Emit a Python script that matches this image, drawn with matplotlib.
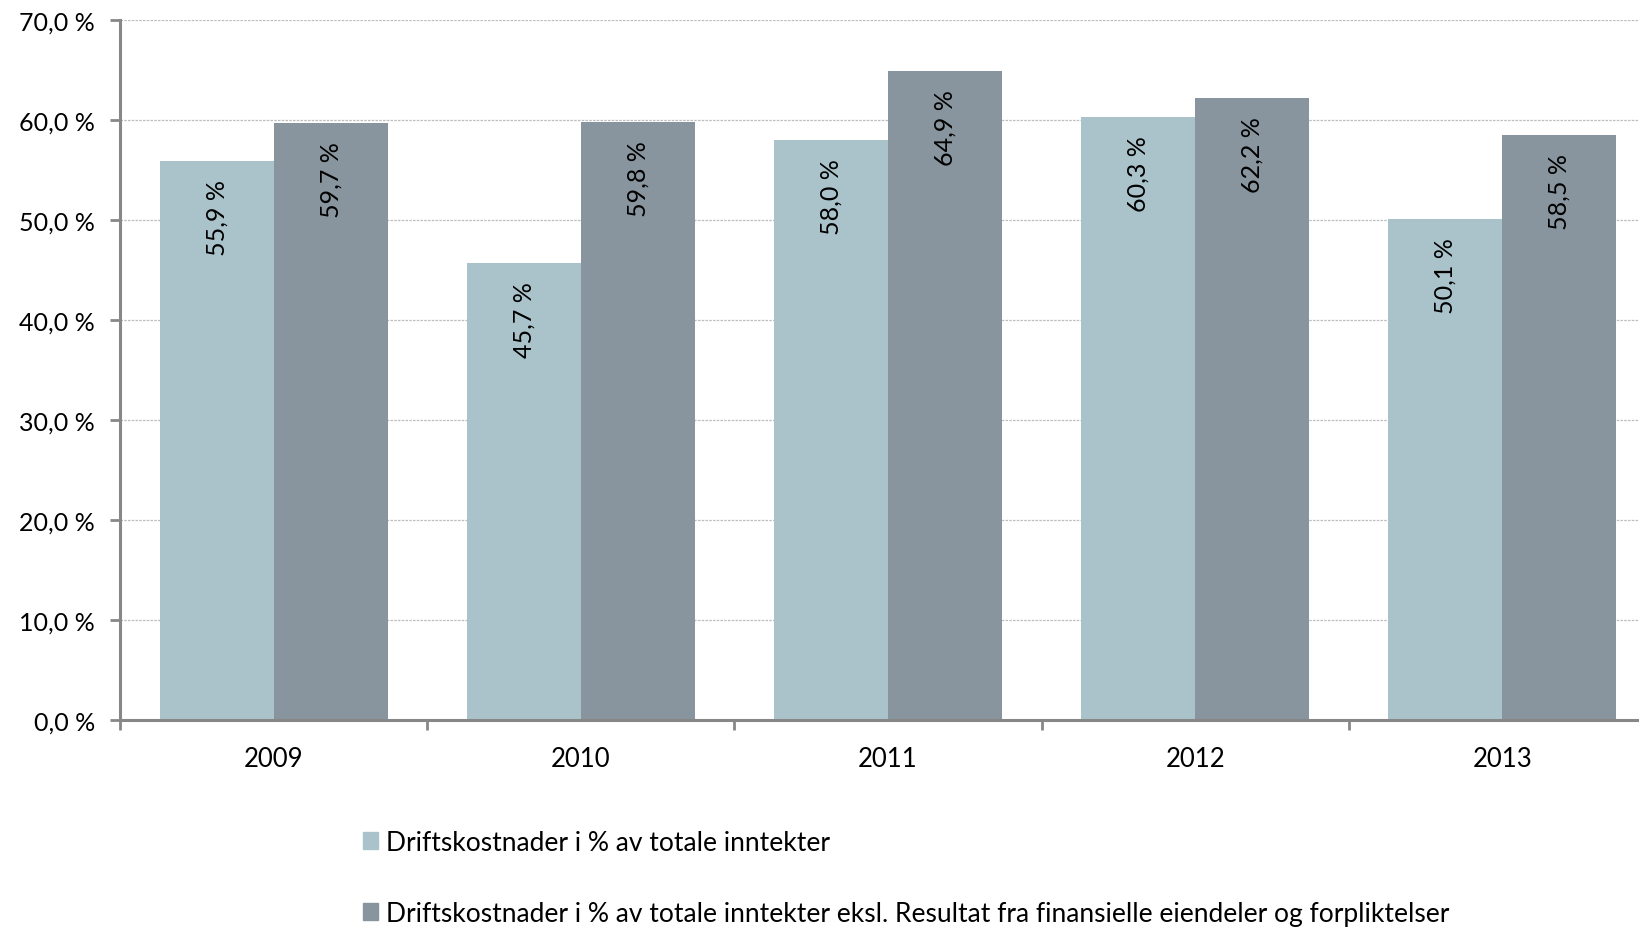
import matplotlib
matplotlib.use("Agg")
import matplotlib.pyplot as plt
from matplotlib.patches import Patch
import numpy as np

years = ["2009", "2010", "2011", "2012", "2013"]
drift_total = [55.9, 45.7, 58.0, 60.3, 50.1]
drift_ekskl = [59.7, 59.8, 64.9, 62.2, 58.5]
labels = [
    "Driftskostnader i % av totale inntekter",
    "Driftskostnader i % av totale inntekter eksl. Resultat fra finansielle eiendeler og forpliktelser",
]

col_light = "#aac3ca"
col_dark = "#88959e"
axis_col = "#878787"

plt.rcParams["font.family"] = ["Lato", "DejaVu Sans"]


def pct(v):
    # norsk format med komma
    return f"{v:.1f}".replace(".", ",") + " %"


fig = plt.figure(figsize=(16.4, 9.28), dpi=100)
ax = fig.add_axes([120 / 1640, 1 - 720.7 / 928, 1536 / 1640, 699.7 / 928])

x = np.arange(len(years))
w = 0.371
b1 = ax.bar(x - w / 2, drift_total, w, color=col_light, zorder=2)
b2 = ax.bar(x + w / 2, drift_ekskl, w, color=col_dark, zorder=2)

for bars, vals in ((b1, drift_total), (b2, drift_ekskl)):
    for r, v in zip(bars, vals):
        ax.annotate(pct(v), (r.get_x() + r.get_width() / 2, v),
                    xytext=(0, -13), textcoords="offset points",
                    rotation=90, ha="center", va="top", fontsize=18, zorder=3)

ax.set_xlim(-0.5, 4.5)
ax.set_ylim(0, 70)
ax.set_yticks(np.arange(0, 71, 10))
ax.set_yticklabels([pct(v) for v in np.arange(0, 71, 10)], fontsize=18)
ax.yaxis.grid(True, color="#bdbdbd", linestyle=(0, (2, 1)), linewidth=0.9, zorder=0)

# x-ticks at category boundaries, labels centered
ax.set_xticks(np.arange(-0.5, 4.6, 1))
ax.set_xticklabels([])
ax.set_xticks(x, minor=True)
ax.set_xticklabels(years, minor=True, fontsize=18.5)
ax.tick_params(axis="x", which="minor", length=0, pad=19)
ax.tick_params(axis="x", which="major", length=7, width=2, color=axis_col, direction="out")
ax.tick_params(axis="y", length=7, width=2, color=axis_col, pad=11)

for s in ("top", "right"):
    ax.spines[s].set_visible(False)
for s in ("left", "bottom"):
    ax.spines[s].set_color(axis_col)
    ax.spines[s].set_linewidth(2.2)

handles = [Patch(color=col_light), Patch(color=col_dark)]
fig.legend(handles, labels, loc="upper left", bbox_to_anchor=(352 / 1640, 1 - 820 / 928),
           frameon=False, fontsize=19, handlelength=0.6, handleheight=0.6,
           handletextpad=0.3, labelspacing=1.76, borderaxespad=0)

fig.savefig("out.png", dpi=100)
